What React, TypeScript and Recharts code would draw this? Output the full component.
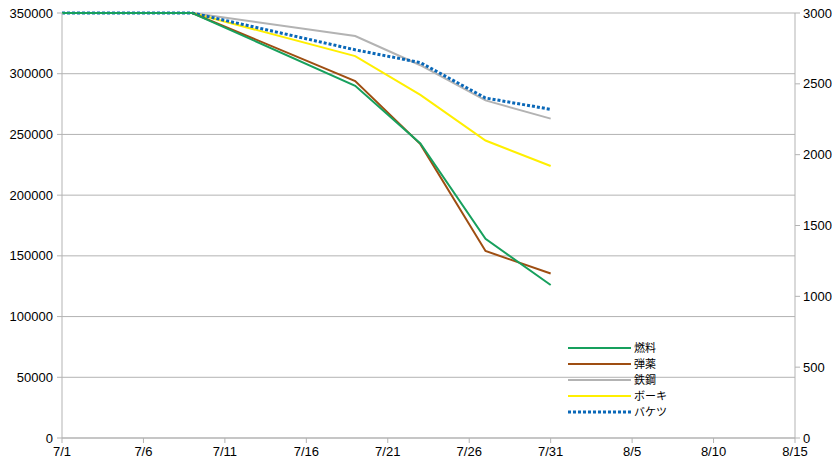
import React from 'react';
import { LineChart, Line, XAxis, YAxis, CartesianGrid } from 'recharts';

const dates = ['7/1', '7/9', '7/19', '7/23', '7/27', '7/31'];
const fuel = [350000, 350000, 290000, 242500, 164000, 126000];
const ammo = [350000, 350000, 294000, 242000, 154000, 135500];
const steel = [350000, 350000, 331000, 307000, 278000, 263000];
const bauxite = [350000, 350000, 314500, 282500, 245000, 224000];
const buckets = [3000, 3000, 2740, 2650, 2400, 2320];

const xTicks = ['7/1', '7/6', '7/11', '7/16', '7/21', '7/26', '7/31', '8/5', '8/10', '8/15'];
const leftTicks = [0, 50000, 100000, 150000, 200000, 250000, 300000, 350000];
const rightTicks = [0, 500, 1000, 1500, 2000, 2500, 3000];

// days since 7/1
const toDay = (s: string) => {
  const [m, d] = s.split('/').map(Number);
  return (m === 8 ? 31 : 0) + d - 1;
};

const data = dates.map((d, i) => ({
  day: toDay(d),
  fuel: fuel[i],
  ammo: ammo[i],
  steel: steel[i],
  bauxite: bauxite[i],
  buckets: buckets[i],
}));

const series = [
  { key: 'fuel', name: '燃料', color: '#17a05d', axis: 'left', dash: undefined },
  { key: 'ammo', name: '弾薬', color: '#9e4e12', axis: 'left', dash: undefined },
  { key: 'steel', name: '鉄鋼', color: '#b3b3b3', axis: 'left', dash: undefined },
  { key: 'bauxite', name: 'ボーキ', color: '#ffef00', axis: 'left', dash: undefined },
  { key: 'buckets', name: 'バケツ', color: '#0a68b8', axis: 'right', dash: '3 2' },
];

const drawOrder = ['steel', 'bauxite', 'buckets', 'ammo', 'fuel'];

const axisColor = '#b3b3b3';
const tickStyle = { fill: '#000', fontSize: 13, fontFamily: '"Liberation Sans", Arial, sans-serif' };

const LegendBox = () => (
  <div
    style={{
      position: 'absolute',
      left: 568,
      top: 340,
      fontFamily: '"Liberation Sans", "Noto Sans CJK JP", sans-serif',
      fontSize: 11,
      lineHeight: '16px',
    }}
  >
    {series.map((s) => (
      <div key={s.key} style={{ display: 'flex', alignItems: 'center', height: 16 }}>
        <svg width={66} height={8} style={{ display: 'block' }}>
          <line
            x1={0}
            x2={63}
            y1={4}
            y2={4}
            stroke={s.color}
            strokeWidth={s.dash ? 3 : 2}
            strokeDasharray={s.dash}
          />
        </svg>
        <span style={{ color: '#000' }}>{s.name}</span>
      </div>
    ))}
  </div>
);

export default function App() {
  return (
    <div style={{ margin: -8, width: 840, height: 471, background: '#fff', position: 'relative' }}>
      <LineChart width={840} height={471} data={data} margin={{ top: 13, right: 0, bottom: 0, left: 0 }}>
        <CartesianGrid yAxisId="left" vertical={false} stroke={axisColor} strokeWidth={1} />
        <XAxis
          type="number"
          dataKey="day"
          domain={[0, 45]}
          ticks={xTicks.map(toDay)}
          tickFormatter={(v: number) => xTicks[Math.round(v / 5)]}
          height={33}
          stroke={axisColor}
          tick={tickStyle}
          tickSize={5}
          tickMargin={4}
          interval={0}
        />
        <YAxis
          yAxisId="left"
          domain={[0, 350000]}
          ticks={leftTicks}
          width={62}
          stroke={axisColor}
          tick={tickStyle}
          tickSize={5}
          tickMargin={4}
          interval={0}
        />
        <YAxis
          yAxisId="right"
          orientation="right"
          domain={[0, 3000]}
          ticks={rightTicks}
          width={45}
          stroke={axisColor}
          tick={tickStyle}
          tickSize={5}
          tickMargin={3}
          interval={0}
        />
        {drawOrder.map((k) => {
          const s = series.find((x) => x.key === k)!;
          return (
            <Line
              key={s.key}
              yAxisId={s.axis}
              type="linear"
              dataKey={s.key}
              name={s.name}
              stroke={s.color}
              strokeWidth={s.dash ? 3 : 2}
              strokeDasharray={s.dash}
              dot={false}
              activeDot={false}
              isAnimationActive={false}
            />
          );
        })}
      </LineChart>
      <LegendBox />
    </div>
  );
}
